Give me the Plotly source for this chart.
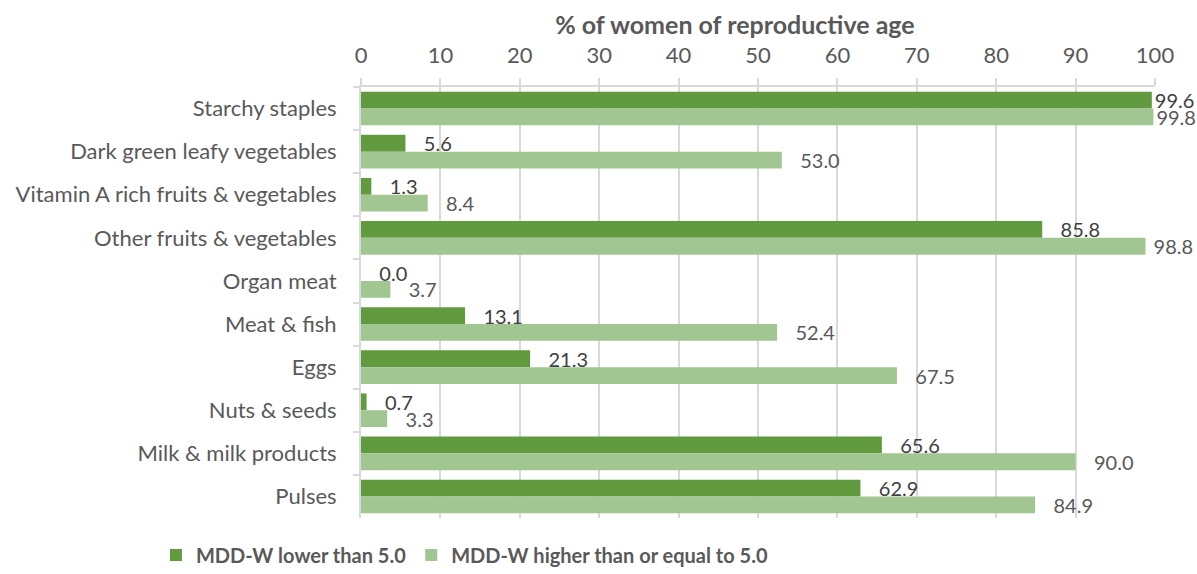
import plotly.graph_objects as go

categories = [
    "Starchy staples",
    "Dark green leafy vegetables",
    "Vitamin A rich fruits & vegetables",
    "Other fruits & vegetables",
    "Organ meat",
    "Meat & fish",
    "Eggs",
    "Nuts & seeds",
    "Milk & milk products",
    "Pulses",
]
mdd_low = [99.6, 5.6, 1.3, 85.8, 0.0, 13.1, 21.3, 0.7, 65.6, 62.9]
mdd_high = [99.8, 53.0, 8.4, 98.8, 3.7, 52.4, 67.5, 3.3, 90.0, 84.9]
x_ticks = [0, 10, 20, 30, 40, 50, 60, 70, 80, 90, 100]

FONT = "Lato, 'Open Sans', sans-serif"
DARK = "#619a3f"
LIGHT = "#a2c691"
GRID = "#d9d9d9"


def value_labels(values):
    # Labels sit a little away from the bar end; near the 100 edge they hug it.
    out = []
    for v in values:
        if v >= 99:
            pad = 0
        elif v >= 95:
            pad = 1
        else:
            pad = 3
        out.append("\u00a0" * pad + f"{v:.1f}")
    return out


fig = go.Figure()
fig.add_trace(go.Bar(
    y=categories, x=mdd_low, orientation="h", name="MDD-W lower than 5.0",
    marker=dict(color=DARK, line=dict(width=0)),
    text=value_labels(mdd_low), textposition="outside",
    textfont=dict(family=FONT, size=20, color="#404040"),
    cliponaxis=False, constraintext="none",
))
fig.add_trace(go.Bar(
    y=categories, x=mdd_high, orientation="h", name="MDD-W higher than or equal to 5.0",
    marker=dict(color=LIGHT, line=dict(width=0)),
    text=value_labels(mdd_high), textposition="outside",
    textfont=dict(family=FONT, size=20, color="#595959"),
    cliponaxis=False, constraintext="none",
))

fig.update_layout(
    width=1197, height=574,
    margin=dict(l=361, r=42, t=87, b=56, autoexpand=False),
    paper_bgcolor="white", plot_bgcolor="white",
    barmode="group", bargap=0.22, bargroupgap=0,
    font=dict(family=FONT, color="#595959"),
    title=dict(
        text="<b>% of women of reproductive age</b>",
        x=0.614, xanchor="center", xref="container",
        y=0.956, yanchor="middle", yref="container",
        font=dict(family=FONT, size=25, color="#595959"),
    ),
    showlegend=True,
    legend=dict(
        orientation="h", x=0.388, xanchor="center", xref="container",
        y=0.033, yanchor="middle", yref="container",
        font=dict(family=FONT, size=20, color="#595959", weight="bold"),
        itemwidth=30, traceorder="normal",
    ),
    xaxis=dict(
        side="top", range=[0, 100], tickvals=x_ticks, ticktext=[str(t) for t in x_ticks],
        showgrid=True, gridcolor=GRID, gridwidth=2,
        showline=True, linecolor=GRID, linewidth=2,
        ticks="outside", ticklen=7, tickcolor=GRID, tickwidth=2,
        tickfont=dict(family=FONT, size=22, color="#595959"),
        ticklabelstandoff=6,
        zeroline=False,
    ),
    yaxis=dict(
        autorange="reversed", tickson="boundaries",
        showline=True, linecolor=GRID, linewidth=2,
        ticks="outside", ticklen=6, tickcolor=GRID, tickwidth=2,
        tickfont=dict(family=FONT, size=22, color="#595959"),
        ticklabelstandoff=18,
        showgrid=False,
    ),
)

fig.write_html("out.html")
